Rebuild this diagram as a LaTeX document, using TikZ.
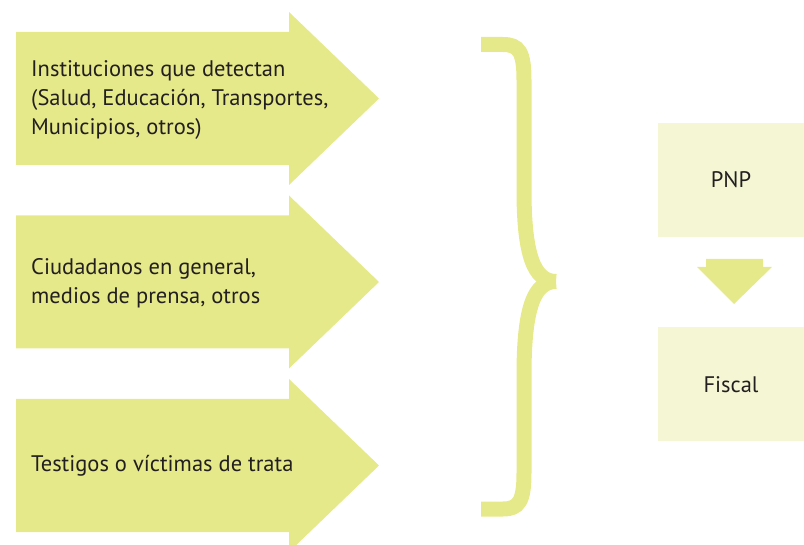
\documentclass[tikz,border=0pt]{standalone}
\usepackage{fontspec}
\setmainfont{PT Sans}
\usepackage{tikz}
\usetikzlibrary{positioning}
\definecolor{flecha}{RGB}{229,233,137}
\definecolor{caja}{RGB}{244,246,212}
\definecolor{texto}{RGB}{35,31,32}

\begin{document}
\begin{tikzpicture}[x=1pt,y=-1pt,
		etiqueta/.style={anchor=west,inner sep=0pt,align=left,text=texto,font=\fontsize{22.5}{29}\selectfont},
		destino/.style={fill=caja,minimum width=146pt,minimum height=114pt,inner sep=0pt,text=texto,font=\fontsize{22.5}{27}\selectfont}]
				
					\useasboundingbox (0,0) rectangle (804,545);
					\clip (0,0) rectangle (804,545);
					
					\foreach \yc in {98.5,282,465.5}
						\fill[flecha] (16,\yc-66.5) -- (289,\yc-66.5) -- (289,\yc-86.5) -- (379,\yc) -- (289,\yc+86.5) -- (289,\yc+66.5) -- (16,\yc+66.5) -- cycle;
					
					\node[etiqueta] (inst) at (31,100) {Instituciones que detectan\\(Salud, Educación, Transportes,\\Municipios, otros)};
					\node[etiqueta] (ciud) at (31,283) {Ciudadanos en general,\\medios de prensa, otros};
					\node[etiqueta] (test) at (31,466) {Testigos o víctimas de trata};
					
					\coordinate (punta) at (556,281.5);
					\draw[flecha,line width=15pt] (481,44.5) -- (503,44.5) .. controls (519,44.5) and (524,52) .. (524,80) -- (524,190) .. controls (524,255) and (534,281.5) .. (punta);
					\draw[flecha,line width=15pt] (481,509) -- (503,509) .. controls (519,509) and (524,501) .. (524,473) -- (524,375) .. controls (524,308) and (534,281.5) .. (punta);
					
					\node[destino] (pnp) at (731,180) {PNP};
					\node[destino] (fiscal) at (731,384.5) {Fiscal};
					
					\fill[flecha] (706,259) -- (763,259) -- (763,267) -- (772,267) -- (734,304) -- (697,267) -- (706,267) -- cycle;

				\end{tikzpicture}
\end{document}
